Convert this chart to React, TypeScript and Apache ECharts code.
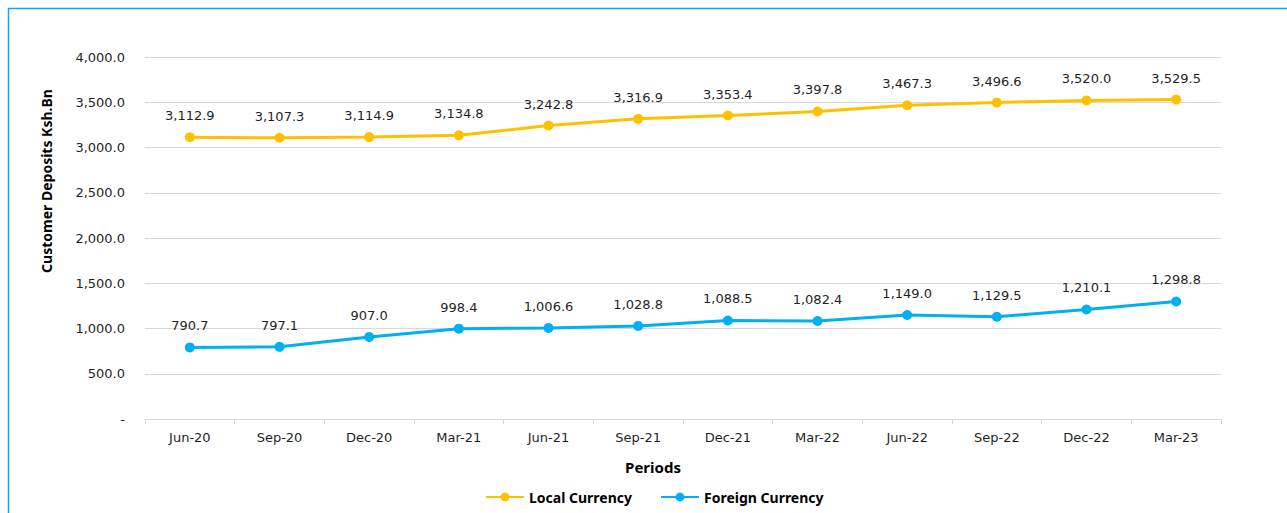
import React, { useEffect, useRef } from "react";
import * as echarts from "echarts";

const categories = ["Jun-20", "Sep-20", "Dec-20", "Mar-21", "Jun-21", "Sep-21", "Dec-21", "Mar-22", "Jun-22", "Sep-22", "Dec-22", "Mar-23"];
const localCurrency = [3112.9, 3107.3, 3114.9, 3134.8, 3242.8, 3316.9, 3353.4, 3397.8, 3467.3, 3496.6, 3520.0, 3529.5];
const foreignCurrency = [790.7, 797.1, 907.0, 998.4, 1006.6, 1028.8, 1088.5, 1082.4, 1149.0, 1129.5, 1210.1, 1298.8];
const yAxisTitle = "Customer Deposits Ksh.Bn";
const xAxisTitle = "Periods";

const fmt = (v: number) =>
  v.toLocaleString("en-US", { minimumFractionDigits: 1, maximumFractionDigits: 1 });

const numFont = "'DejaVu Sans', Verdana, sans-serif";
const boldFont = "'Noto Sans', 'Open Sans', sans-serif";

export default function App() {
  const ref = useRef<HTMLDivElement>(null);
  useEffect(() => {
    if (!ref.current) return;
    const chart = echarts.init(ref.current, null, { renderer: "svg" });
    const labelStyle = {
      show: true,
      position: "top" as const,
      distance: 10,
      color: "#1f1f1f",
      fontFamily: numFont,
      fontSize: 13,
      formatter: (p: any) => fmt(p.value),
    };
    chart.setOption({
      animation: false,
      backgroundColor: "#ffffff",
      grid: { left: 145, right: 66, top: 57, bottom: 94, containLabel: false },
      legend: {
        left: 480,
        top: 485,
        itemWidth: 38,
        itemHeight: 11,
        itemGap: 28,
        textStyle: { fontFamily: boldFont, fontWeight: "bold", fontSize: 14, color: "#000" },
        data: ["Local Currency", "Foreign Currency"],
      },
      xAxis: {
        type: "category",
        data: categories,
        boundaryGap: true,
        axisLine: { lineStyle: { color: "#d9d9d9", width: 1 } },
        axisTick: { show: true, length: 5, lineStyle: { color: "#d9d9d9" } },
        axisLabel: { color: "#1f1f1f", fontFamily: numFont, fontSize: 13, margin: 12 },
      },
      yAxis: {
        type: "value",
        min: 0,
        max: 4000,
        interval: 500,
        axisLine: { show: false },
        axisTick: { show: false },
        splitLine: { lineStyle: { color: "#d9d9d9", width: 1 } },
        axisLabel: {
          color: "#1f1f1f",
          fontFamily: numFont,
          fontSize: 13,
          margin: 20,
          formatter: (v: number) => (v === 0 ? "-" : fmt(v)),
        },
      },
      graphic: [
        {
          type: "rect",
          shape: { x: 8.5, y: 8.5, width: 1400, height: 600 },
          style: { fill: "none", stroke: "#00B0F0", lineWidth: 1.5 },
          silent: true,
        },
        {
          type: "text",
          x: 46,
          y: 181,
          rotation: Math.PI / 2,
          style: {
            text: yAxisTitle,
            fontFamily: boldFont,
            fontWeight: "bold",
            fontSize: 14,
            fill: "#000",
            align: "center",
            verticalAlign: "middle",
          },
        },
        {
          type: "text",
          x: 653,
          y: 467,
          style: {
            text: xAxisTitle,
            fontFamily: boldFont,
            fontWeight: "bold",
            fontSize: 15,
            fill: "#000",
            align: "center",
            verticalAlign: "middle",
          },
        },
      ],
      series: [
        {
          name: "Local Currency",
          type: "line",
          data: localCurrency,
          symbol: "circle",
          symbolSize: 10,
          lineStyle: { color: "#FFC000", width: 3 },
          itemStyle: { color: "#FFC000" },
          label: labelStyle,
        },
        {
          name: "Foreign Currency",
          type: "line",
          data: foreignCurrency,
          symbol: "circle",
          symbolSize: 10,
          lineStyle: { color: "#00B0F0", width: 3 },
          itemStyle: { color: "#00B0F0" },
          label: labelStyle,
        },
      ],
    });
    return () => chart.dispose();
  }, []);
  return (
    <div
      ref={ref}
      style={{ position: "fixed", left: 0, top: 0, width: 1287, height: 513 }}
    />
  );
}
